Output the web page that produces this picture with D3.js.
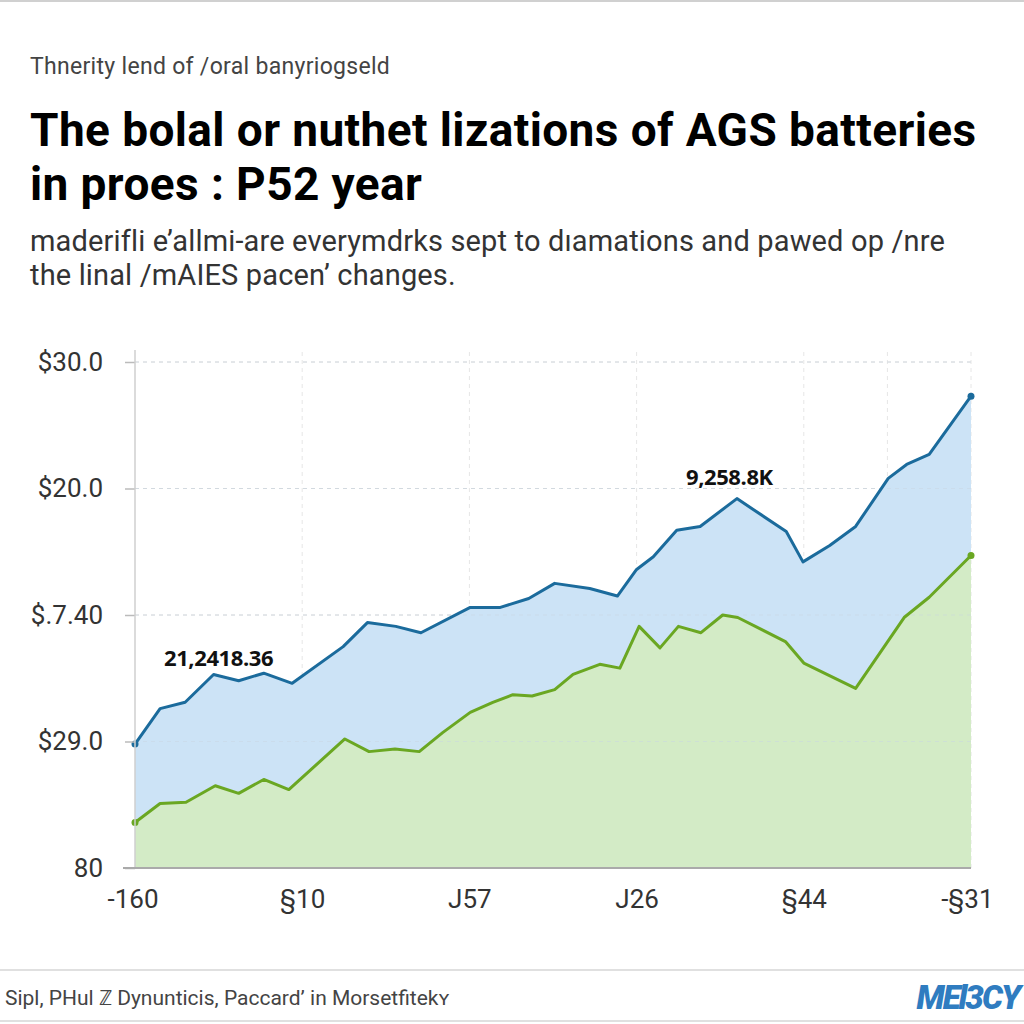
<!DOCTYPE html>
<html><head><meta charset="utf-8">
<script src="https://cdn.jsdelivr.net/npm/d3@7"></script>
<style>
html,body{margin:0;padding:0;background:#fff;}
svg{display:block;}
</style></head>
<body>
<svg id="c" width="1024" height="1024"></svg>
<script>
// ---- data ----
const blueX = [0,3.0,6.0,9.4,12.4,15.4,18.8,24.9,27.8,31.2,34.2,40.1,43.7,47.1,50.2,54.4,57.7,60.0,62.0,64.8,67.6,72.0,77.9,79.9,83.1,86.2,90.1,92.3,95.0,100];
const blueY = [9.8,12.6,13.1,15.3,14.8,15.4,14.6,17.5,19.4,19.1,18.6,20.6,20.6,21.3,22.5,22.1,21.5,23.6,24.6,26.7,27.0,29.2,26.6,24.2,25.5,27.0,30.8,31.9,32.7,37.3];
const greenX = [0,3.0,6.1,9.6,12.4,15.4,18.4,25.1,28.0,31.1,34.0,36.8,40.1,42.8,45.2,47.5,50.2,52.4,55.6,58.0,60.3,62.8,65.0,67.7,70.3,72.1,77.8,80.0,86.2,92.0,95.0,100];
const greenY = [3.6,5.1,5.2,6.5,5.9,7.0,6.2,10.2,9.2,9.4,9.2,10.7,12.3,13.1,13.7,13.6,14.1,15.3,16.1,15.8,19.1,17.4,19.1,18.6,20.0,19.8,17.9,16.2,14.2,19.8,21.4,24.7];
const yTickValues = [0,10,20,30,40];
const yTickLabels = ["80","$29.0","$.7.40","$20.0","$30.0"];
const xTickValues = [0,20,40,60,80,100];
const xTickLabels = ["-160","§10","J57","J26","§44","-§31"];
const xExtraGrid = [90];
const annotations = [
  {x:10.0, y:16.0, text:"21,2418.36"},
  {x:71.1, y:30.3, text:"9,258.8K"}
];
const kicker = "Thnerity lend of  /oral banyriogseld";
const titleLines = ["The bolal or nuthet lizations of AGS batteries","in proes : P52 year"];
const subLines = ["maderifli e\u2019allmi-are everymdrks sept to dıamations and pawed op /nre","the linal /mAIES pacen\u2019 changes."];
const footer = "Sipl, PHul \u2124 Dynunticis, Paccard\u2019 in Morsetfitek\u028F";
const logo = "MEl3CY";

// ---- drawing ----
const svg = d3.select("#c");
const font = "Roboto, 'Liberation Sans', Arial, sans-serif";
const L = 135, R = 971, T = 362, B = 868;
const x = d3.scaleLinear().domain([0,100]).range([L,R]);
const y = d3.scaleLinear().domain([0,40]).range([B,T]);

// frame lines
svg.append("line").attr("x1",0).attr("x2",1024).attr("y1",1).attr("y2",1).attr("stroke","#d0d0d0").attr("stroke-width",2);
svg.append("line").attr("x1",0).attr("x2",1024).attr("y1",970).attr("y2",970).attr("stroke","#d6d6d6").attr("stroke-width",1.5);
svg.append("line").attr("x1",0).attr("x2",1024).attr("y1",1021).attr("y2",1021).attr("stroke","#d6d6d6").attr("stroke-width",1.5);

// header texts
svg.append("text").attr("x",30).attr("y",74).attr("font-family",font).attr("font-size",23).attr("letter-spacing",0.3).attr("fill","#444").text(kicker);
svg.selectAll(".title").data(titleLines).join("text").attr("class","title")
  .attr("x",30).attr("y",(d,i)=>146+i*54)
  .attr("font-family",font).attr("font-weight",700).attr("font-size",46).attr("letter-spacing",0.4)
  .attr("fill","#000").text(d=>d);
svg.selectAll(".sub").data(subLines).join("text").attr("class","sub")
  .attr("x",30).attr("y",(d,i)=>251+i*34)
  .attr("font-family",font).attr("font-size",29).attr("letter-spacing",0.15)
  .attr("fill","#333").text(d=>d);

// grid
const g = svg.append("g");
g.selectAll(".hg").data(yTickValues.filter(v=>v>0)).join("line")
  .attr("x1",L).attr("x2",R).attr("y1",d=>y(d)).attr("y2",d=>y(d))
  .attr("stroke","#dcdcdc").attr("stroke-dasharray","4,4").attr("stroke-width",1);
g.selectAll(".vg").data(xTickValues.filter(v=>v>0).concat(xExtraGrid)).join("line")
  .attr("x1",d=>x(d)).attr("x2",d=>x(d)).attr("y1",T-10).attr("y2",B)
  .attr("stroke","#e6e6e6").attr("stroke-dasharray","4,4").attr("stroke-width",1);

// areas
const blue = blueX.map((v,i)=>[v,blueY[i]]);
const green = greenX.map((v,i)=>[v,greenY[i]]);
const area = d3.area().x(d=>x(d[0])).y0(y(0)).y1(d=>y(d[1]));
const line = d3.line().x(d=>x(d[0])).y(d=>y(d[1]));
g.append("path").attr("d",area(blue)).attr("fill","#cce3f6");
g.append("path").attr("d",area(green)).attr("fill","#d3ebc6");

g.selectAll(".hg2").data(yTickValues.filter(v=>v>0)).join("line")
  .attr("x1",L).attr("x2",R).attr("y1",d=>y(d)).attr("y2",d=>y(d))
  .attr("stroke","#c8d6e2").attr("stroke-opacity",0.5).attr("stroke-dasharray","4,4").attr("stroke-width",1);

g.append("path").attr("d",line(blue)).attr("fill","none").attr("stroke","#1b6b9c").attr("stroke-width",3).attr("stroke-linejoin","round");
g.append("path").attr("d",line(green)).attr("fill","none").attr("stroke","#6aa722").attr("stroke-width",3).attr("stroke-linejoin","round");
[[blue,"#1b6b9c"],[green,"#6aa722"]].forEach(([s,c])=>{
  g.selectAll(null).data([s[0],s[s.length-1]]).join("circle")
    .attr("cx",d=>x(d[0])).attr("cy",d=>y(d[1])).attr("r",3.5).attr("fill",c);
});

// axes
const yAxis = d3.axisLeft(y).tickValues(yTickValues).tickFormat((d,i)=>yTickLabels[i]).tickSize(10).tickPadding(22);
const ya = svg.append("g").attr("transform",`translate(${L},0)`).call(yAxis);
ya.select(".domain").remove();
ya.selectAll(".tick line").attr("stroke","#bbb").attr("stroke-width",1.5);
ya.selectAll(".tick text").attr("font-family",font).attr("font-size",26).attr("fill","#333");
svg.append("line").attr("x1",L).attr("x2",L).attr("y1",T-12).attr("y2",B).attr("stroke","#cfcfcf").attr("stroke-width",1.5);

const xAxis = d3.axisBottom(x).tickValues(xTickValues).tickFormat((d,i)=>xTickLabels[i]).tickSize(0).tickPadding(22);
const xa = svg.append("g").attr("transform",`translate(0,${B})`).call(xAxis);
xa.select(".domain").remove();
xa.selectAll(".tick text").attr("font-family",font).attr("font-size",26).attr("fill","#333");
xa.selectAll(".tick text").attr("text-anchor",(d,i)=>i===0?"start":(i===xTickValues.length-1?"end":"middle"))
  .attr("dx",(d,i)=>i===0?-28:(i===xTickValues.length-1?22:0));
svg.append("line").attr("x1",L-12).attr("x2",R).attr("y1",B).attr("y2",B).attr("stroke","#aaa").attr("stroke-width",2);

// annotations
svg.selectAll(".ann").data(annotations).join("text")
  .attr("x",d=>x(d.x)).attr("y",d=>y(d.y)).attr("text-anchor","middle")
  .attr("font-family","'Open Sans', Roboto, sans-serif").attr("font-weight",700).attr("font-size",22).attr("letter-spacing",-0.4)
  .attr("fill","#111").text(d=>d.text);

// footer
svg.append("text").attr("x",5).attr("y",1005).attr("font-family",font).attr("font-size",21).attr("fill","#444").text(footer);
svg.append("text").attr("x",1019).attr("y",1009).attr("text-anchor","end").attr("font-family",font).attr("font-weight",900)
  .attr("font-style","italic").attr("font-size",33).attr("letter-spacing",-2).attr("fill","#2f7cc0").text(logo);
</script>
</body></html>
